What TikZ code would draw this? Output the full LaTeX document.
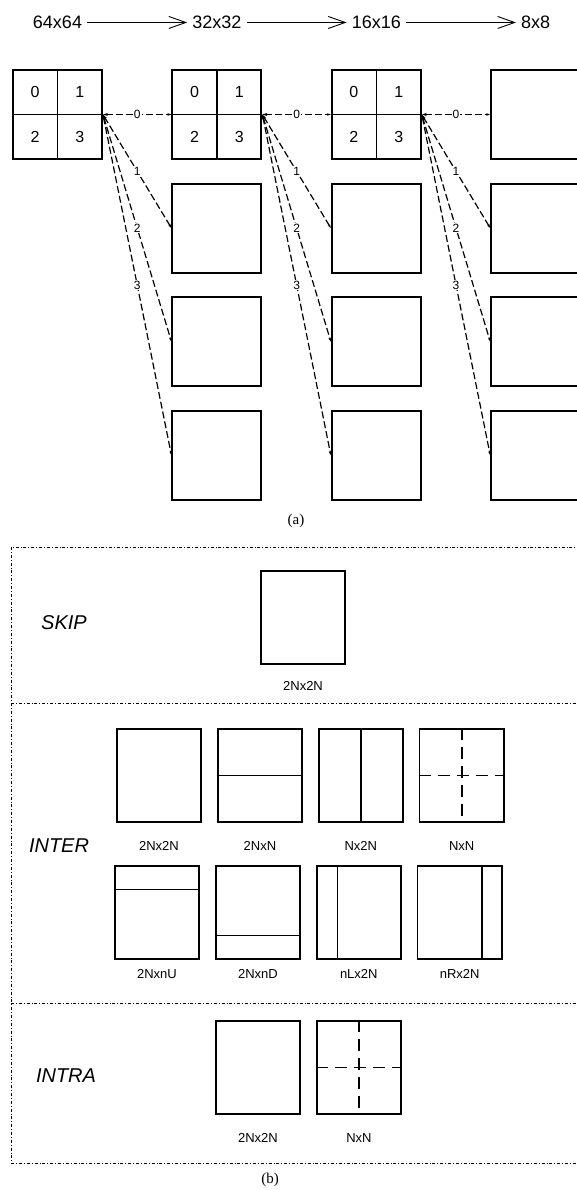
\documentclass[tikz,border=0pt]{standalone}
\usepackage{fontspec}
\setmainfont{Liberation Serif}
\setsansfont{Liberation Sans}
\usetikzlibrary{matrix,positioning,arrows.meta}

\tikzset{
  blk/.style={draw, line width=1.9pt, minimum size=89pt, inner sep=0pt},
  pu/.style={draw, line width=1.9pt, minimum width=84.5pt, minimum height=92.5pt, inner sep=0pt},
  split/.style={line width=1.5pt},
  crossdash/.style={line width=1.6pt, dash pattern=on 12pt off 7pt},
  head/.style={font=\sffamily\fontsize{18}{20}\selectfont, inner xsep=5pt, inner ysep=0pt},
  qnum/.style={font=\sffamily\fontsize{16}{18}\selectfont, inner sep=0pt},
  lbl/.style={font=\sffamily\fontsize{12}{14}\selectfont, fill=white, inner sep=1pt},
  pulbl/.style={font=\sffamily\fontsize{13}{15}\selectfont, inner sep=0pt},
  mode/.style={font=\sffamily\itshape\fontsize{20}{22}\selectfont, inner sep=0pt},
  subcap/.style={font=\fontsize{15}{17}\selectfont, inner sep=0pt},
  sizearrow/.style={line width=0.9pt, -{Straight Barb[length=17pt, width=12pt, line width=0.9pt]}},
  link/.style={line width=1.2pt, dash pattern=on 7pt off 3pt,
    {Stealth[length=5pt, width=3pt]}-{Stealth[length=4pt, width=2.5pt]}},
  frame/.style={line width=0.8pt, dashdotted}
}

\begin{document}
\begin{tikzpicture}[x=1pt, y=1pt]
  \useasboundingbox (0,0) rectangle (577,-1190);

  % (a) CU quadtree
  \matrix(grid)[matrix of nodes, ampersand replacement=\&, nodes={blk},
      column sep=68.5pt, row sep=22.7pt, inner sep=0pt,
      matrix anchor=grid-1-1.center] at (57.5,-114.5) {
    ~ \& ~ \& ~ \& ~ \\
      \& ~ \& ~ \& ~ \\
      \& ~ \& ~ \& ~ \\
      \& ~ \& ~ \& ~ \\ };

  \node[head, above=40pt of grid-1-1] (h64) {64x64};
  \node[head, above=40pt of grid-1-2] (h32) {32x32};
  \node[head, above=40pt of grid-1-3] (h16) {16x16};
  \node[head, above=40pt of grid-1-4] (h8) {8x8};
  \path[draw, sizearrow] (h64) -- (h32);
  \path[draw, sizearrow] (h32) -- (h16);
  \path[draw, sizearrow] (h16) -- (h8);

  % quadrants
  \draw[split] (grid-1-1.north) -- (grid-1-1.south) (grid-1-1.west) -- (grid-1-1.east);
  \draw[split] (grid-1-2.north) -- (grid-1-2.south) (grid-1-2.west) -- (grid-1-2.east);
  \draw[split] (grid-1-3.north) -- (grid-1-3.south) (grid-1-3.west) -- (grid-1-3.east);
  \path (grid-1-1.center) +(-22.4,22.4) node[qnum] (q1a) {0} +(22.4,22.4) node[qnum] (q1b) {1}
    +(-22.4,-22.4) node[qnum] (q1c) {2} +(22.4,-22.4) node[qnum] (q1d) {3};
  \path (grid-1-2.center) +(-22.4,22.4) node[qnum] (q2a) {0} +(22.4,22.4) node[qnum] (q2b) {1}
    +(-22.4,-22.4) node[qnum] (q2c) {2} +(22.4,-22.4) node[qnum] (q2d) {3};
  \path (grid-1-3.center) +(-22.4,22.4) node[qnum] (q3a) {0} +(22.4,22.4) node[qnum] (q3b) {1}
    +(-22.4,-22.4) node[qnum] (q3c) {2} +(22.4,-22.4) node[qnum] (q3d) {3};

  % links to the next depth
  \path[draw, link] (grid-1-1.east) -- node[lbl] (c1a) {0} (grid-1-2.west);
  \path[draw, link] (grid-1-1.east) -- node[lbl] (c1b) {1} (grid-2-2.west);
  \path[draw, link] (grid-1-1.east) -- node[lbl] (c1c) {2} (grid-3-2.west);
  \path[draw, link] (grid-1-1.east) -- node[lbl] (c1d) {3} (grid-4-2.west);
  \path[draw, link] (grid-1-2.east) -- node[lbl] (c2a) {0} (grid-1-3.west);
  \path[draw, link] (grid-1-2.east) -- node[lbl] (c2b) {1} (grid-2-3.west);
  \path[draw, link] (grid-1-2.east) -- node[lbl] (c2c) {2} (grid-3-3.west);
  \path[draw, link] (grid-1-2.east) -- node[lbl] (c2d) {3} (grid-4-3.west);
  \path[draw, link] (grid-1-3.east) -- node[lbl] (c3a) {0} (grid-1-4.west);
  \path[draw, link] (grid-1-3.east) -- node[lbl] (c3b) {1} (grid-2-4.west);
  \path[draw, link] (grid-1-3.east) -- node[lbl] (c3c) {2} (grid-3-4.west);
  \path[draw, link] (grid-1-3.east) -- node[lbl] (c3d) {3} (grid-4-4.west);

  \node[subcap] (capa) at (296,-521) {(a)};

  % (b) PU partitions
  \draw[frame] (11,-547) rectangle (600,-1163);
  \draw[frame] (11,-703) -- (600,-703);
  \draw[frame] (11,-1003) -- (600,-1003);

  \node[mode] (skip) at (64,-623) {SKIP};
  \node[pu] (s1) at (303,-617.5) {};
  \node[pulbl, below=16.5pt of s1] (s1l) {2Nx2N};

  \node[mode] (inter) at (59,-846) {INTER};
  \node[pu] (p1) at (159,-775.5) {};
  \node[pu, right=14.5pt of p1] (p2) {};
  \node[pu, right=14.5pt of p2] (p3) {};
  \node[pu, right=14.5pt of p3] (p4) {};
  \node[pu] (p5) at (157,-912.5) {};
  \node[pu, right=14.5pt of p5] (p6) {};
  \node[pu, right=14.5pt of p6] (p7) {};
  \node[pu, right=14.5pt of p7] (p8) {};
  \node[pulbl, below=18.5pt of p1] (p1l) {2Nx2N};
  \node[pulbl, below=18.5pt of p2] (p2l) {2NxN};
  \node[pulbl, below=18.5pt of p3] (p3l) {Nx2N};
  \node[pulbl, below=18.5pt of p4] (p4l) {NxN};
  \node[pulbl, below=9.5pt of p5] (p5l) {2NxnU};
  \node[pulbl, below=9.5pt of p6] (p6l) {2NxnD};
  \node[pulbl, below=9.5pt of p7] (p7l) {nLx2N};
  \node[pulbl, below=9.5pt of p8] (p8l) {nRx2N};
  \draw[split] (p2.west) -- (p2.east);
  \draw[split] (p3.north) -- (p3.south);
  \draw[crossdash] (p4.north) -- (p4.south) (p4.west) -- (p4.east);
  \draw[split] ([yshift=-24pt]p5.north west) -- ([yshift=-24pt]p5.north east);
  \draw[split] ([yshift=24pt]p6.south west) -- ([yshift=24pt]p6.south east);
  \draw[split] ([xshift=22pt]p7.north west) -- ([xshift=22pt]p7.south west);
  \draw[split] ([xshift=-21pt]p8.north east) -- ([xshift=-21pt]p8.south east);

  \node[mode] (intra) at (66,-1076) {INTRA};
  \node[pu] (r1) at (258,-1067.5) {};
  \node[pu, right=14.5pt of r1] (r2) {};
  \node[pulbl, below=18.5pt of r1] (r1l) {2Nx2N};
  \node[pulbl, below=18.5pt of r2] (r2l) {NxN};
  \draw[crossdash] (r2.north) -- (r2.south) (r2.west) -- (r2.east);

  \node[subcap] (capb) at (270,-1180) {(b)};
\end{tikzpicture}
\end{document}
